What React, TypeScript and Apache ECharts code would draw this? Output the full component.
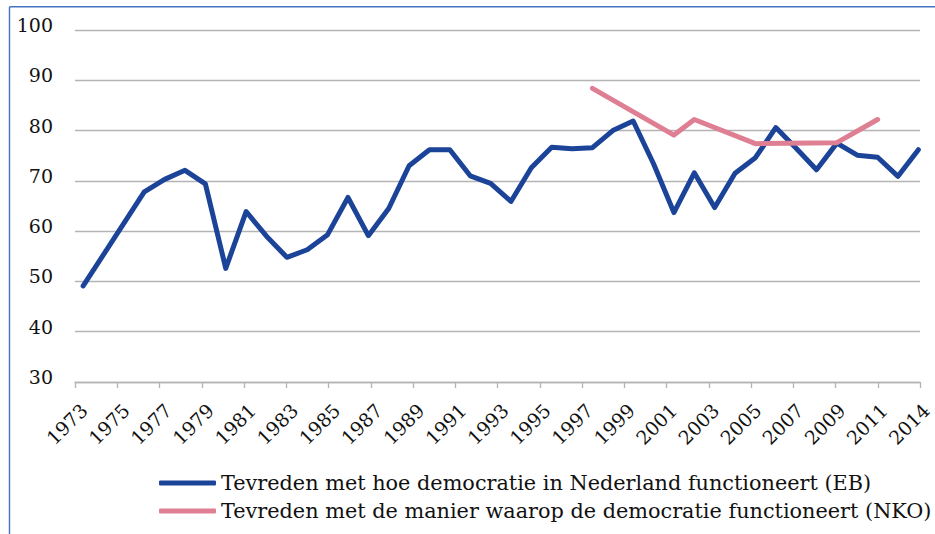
import React, { useEffect, useRef } from "react";
import * as echarts from "echarts";

const tickLabels = [
  "1973", "1975", "1977", "1979", "1981", "1983", "1985", "1987", "1989", "1991",
  "1993", "1995", "1997", "1999", "2001", "2003", "2005", "2007", "2009", "2011", "2014",
];

const ebYears = [
  1973, 1976, 1977, 1978, 1979, 1980, 1981, 1982, 1983, 1984, 1985, 1986, 1987, 1988,
  1989, 1990, 1991, 1992, 1993, 1994, 1995, 1996, 1997, 1998, 1999, 2000, 2001, 2002,
  2003, 2004, 2005, 2006, 2007, 2008, 2009, 2010, 2011, 2012, 2013, 2014,
];
const ebValues = [
  49.1, 67.8, 70.3, 72.1, 69.4, 52.6, 63.9, 59.0, 54.8, 56.3, 59.3, 66.7, 59.1, 64.5,
  73.0, 76.2, 76.2, 71.0, 69.5, 65.9, 72.6, 76.7, 76.4, 76.6, 80.0, 81.9, 73.4, 63.7,
  71.6, 64.7, 71.5, 74.6, 80.6, 76.5, 72.2, 77.5, 75.1, 74.7, 70.9, 76.2,
];

const nkoYears = [1998, 2002, 2003, 2006, 2010, 2012];
const nkoValues = [88.4, 79.1, 82.2, 77.4, 77.6, 82.2];

const ebName = "Tevreden met hoe democratie in Nederland functioneert (EB)";
const nkoName = "Tevreden met de manier waarop de democratie functioneert (NKO)";

export default function App() {
  const ref = useRef<HTMLDivElement>(null);
  useEffect(() => {
    document.body.style.margin = "0";
    const chart = echarts.init(ref.current!, null, { renderer: "svg" });
    const font = "'DejaVu Serif', serif";
    const grey = "#b4b4b4";
    chart.setOption({
      animation: false,
      graphic: [
        { type: "line", shape: { x1: 9.5, y1: 6.7, x2: 935, y2: 6.7 }, style: { stroke: "#4472c4", lineWidth: 1.4 } },
        { type: "line", shape: { x1: 9.5, y1: 6.7, x2: 9.5, y2: 534 }, style: { stroke: "#4472c4", lineWidth: 1.4 } },
      ],
      grid: [
        { top: 30, bottom: 152, left: 75, right: 15 },
        { top: 30, bottom: 152, left: 84, right: 6 },
      ],
      xAxis: [
        { type: "value", gridIndex: 0, min: 1972.6, max: 2014.08, show: false, splitLine: { show: false } },
        {
          type: "category", gridIndex: 0, data: tickLabels, boundaryGap: false, position: "bottom",
          axisLine: { onZero: false, lineStyle: { color: grey, width: 1.3 } },
          axisTick: { show: true, interval: 0, length: 6, lineStyle: { color: grey, width: 1.3 } },
          axisLabel: { show: false },
        },
        {
          type: "category", gridIndex: 1, data: tickLabels, boundaryGap: false, position: "bottom",
          axisLine: { show: false, onZero: false }, axisTick: { show: false },
          axisLabel: { interval: 0, rotate: 45, margin: 25, fontSize: 19, fontFamily: font, color: "#111" },
        },
      ],
      yAxis: [
        {
          type: "value", gridIndex: 0, min: 30, max: 100, interval: 10,
          axisLine: { show: false }, axisTick: { show: false },
          splitLine: { lineStyle: { color: grey, width: 1.3 } },
          axisLabel: {
            margin: 22,
            formatter: "{a|{value}}",
            rich: { a: { fontSize: 19, fontFamily: font, color: "#111", padding: [0, 0, 10, 0] } },
          },
        },
        { type: "value", gridIndex: 1, min: 30, max: 100, show: false, splitLine: { show: false } },
      ],
      legend: {
        orient: "vertical", left: 154, top: 466, itemWidth: 57, itemHeight: 5, itemGap: 4,
        icon: "roundRect",
        textStyle: { fontFamily: font, fontSize: 20.8, color: "#111", lineHeight: 24 },
        data: [ebName, nkoName],
      },
      series: [
        {
          name: ebName, type: "line", xAxisIndex: 0, yAxisIndex: 0, symbol: "none",
          data: ebYears.map((y, i) => [y, ebValues[i]]),
          lineStyle: { color: "#1b4397", width: 5, cap: "round", join: "round" },
          itemStyle: { color: "#1b4397" },
        },
        {
          name: nkoName, type: "line", xAxisIndex: 0, yAxisIndex: 0, symbol: "none",
          data: nkoYears.map((y, i) => [y, nkoValues[i]]),
          lineStyle: { color: "#df7f94", width: 5, cap: "round", join: "round" },
          itemStyle: { color: "#df7f94" },
        },
      ],
    });
    return () => chart.dispose();
  }, []);
  return <div ref={ref} style={{ width: 935, height: 534 }} />;
}
